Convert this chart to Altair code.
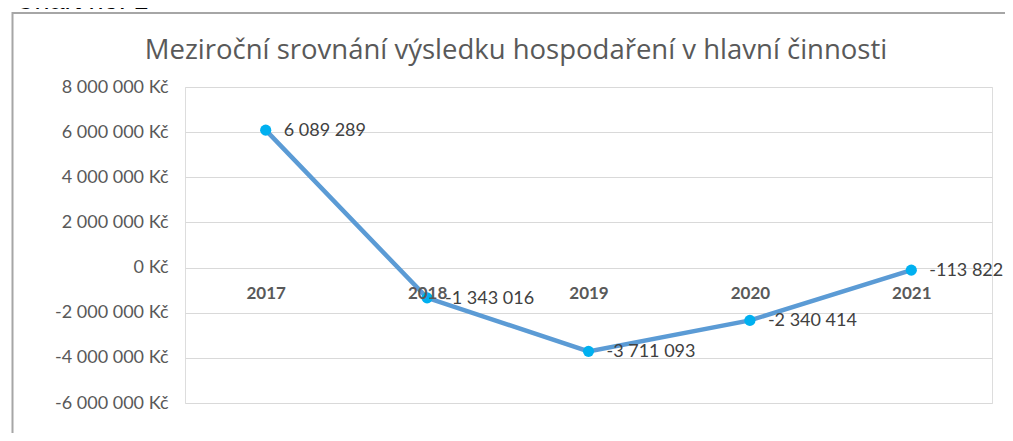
import altair as alt
import pandas as pd

years = ["2017", "2018", "2019", "2020", "2021"]
values = [6089289, -1343016, -3711093, -2340414, -113822]
y_ticks = [-6000000, -4000000, -2000000, 0, 2000000, 4000000, 6000000, 8000000]
title_text = "Meziroční srovnání výsledku hospodaření v hlavní činnosti"
caption_text = "Chart no. 1"

df = pd.DataFrame({"year": years, "value": values})

fmt = "replace(replace(format({v}, ','), regexp(',', 'g'), ' '), '\u2212', '-')"

x_enc = alt.X(
    "year:N",
    sort=years,
    scale=alt.Scale(type="point", padding=0.5),
    axis=alt.Axis(
        title=None, orient="bottom", offset=-135, domain=False, ticks=False,
        labelFont="Lato", labelFontSize=17, labelFontWeight="bold",
        labelColor="#595959", labelPadding=25, labelBaseline="middle",
        labelAngle=0, zindex=1,
    ),
)
y_enc = alt.Y(
    "value:Q",
    scale=alt.Scale(domain=[-6000000, 8000000], nice=False, zero=False),
    axis=alt.Axis(
        title=None, values=y_ticks, domain=False, ticks=False,
        gridColor="#d9d9d9", gridWidth=1,
        labelExpr=fmt.format(v="datum.value") + " + ' Kč'",
        labelFont="Lato", labelFontSize=18, labelColor="#595959",
        labelPadding=17,
    ),
)

base = alt.Chart(df).encode(x=x_enc, y=y_enc)

line = base.mark_line(color="#5b9bd5", strokeWidth=4.5, strokeCap="round")
points = base.mark_circle(color="#00b0f0", size=125, opacity=1)
labels = base.transform_calculate(
    label=fmt.format(v="datum.value")
).mark_text(
    align="left", baseline="middle", dx=18, dy=1, font="Lato",
    fontSize=18, color="#404040",
).encode(text="label:N")

one = pd.DataFrame({"t": [title_text], "c": [caption_text]})
border = alt.Chart(one).mark_rect(
    filled=False, stroke="#a6a6a6", strokeWidth=2
).encode(
    x=alt.value(-172.5), x2=alt.value(900), y=alt.value(-74), y2=alt.value(420)
)
title = alt.Chart(one).mark_text(
    font="Open Sans", fontSize=27.5, color="#595959", align="center", baseline="middle"
).encode(x=alt.value(331), y=alt.value(-36), text="t:N")
caption = alt.Chart(one).mark_text(
    font="Liberation Sans", fontSize=27, color="#000000", align="left",
    baseline="alphabetic",
).encode(x=alt.value(-170), y=alt.value(-78), text="c:N")

chart = alt.layer(border, title, caption, line, points, labels).properties(
    width=807,
    height=316,
    autosize=alt.AutoSizeParams(type="none"),
    padding={"left": 177, "top": 79, "right": 13, "bottom": 30},
).configure_view(strokeWidth=0).configure(background="#ffffff")

chart.save("out.html", embed_options={"renderer": "svg", "actions": False})
